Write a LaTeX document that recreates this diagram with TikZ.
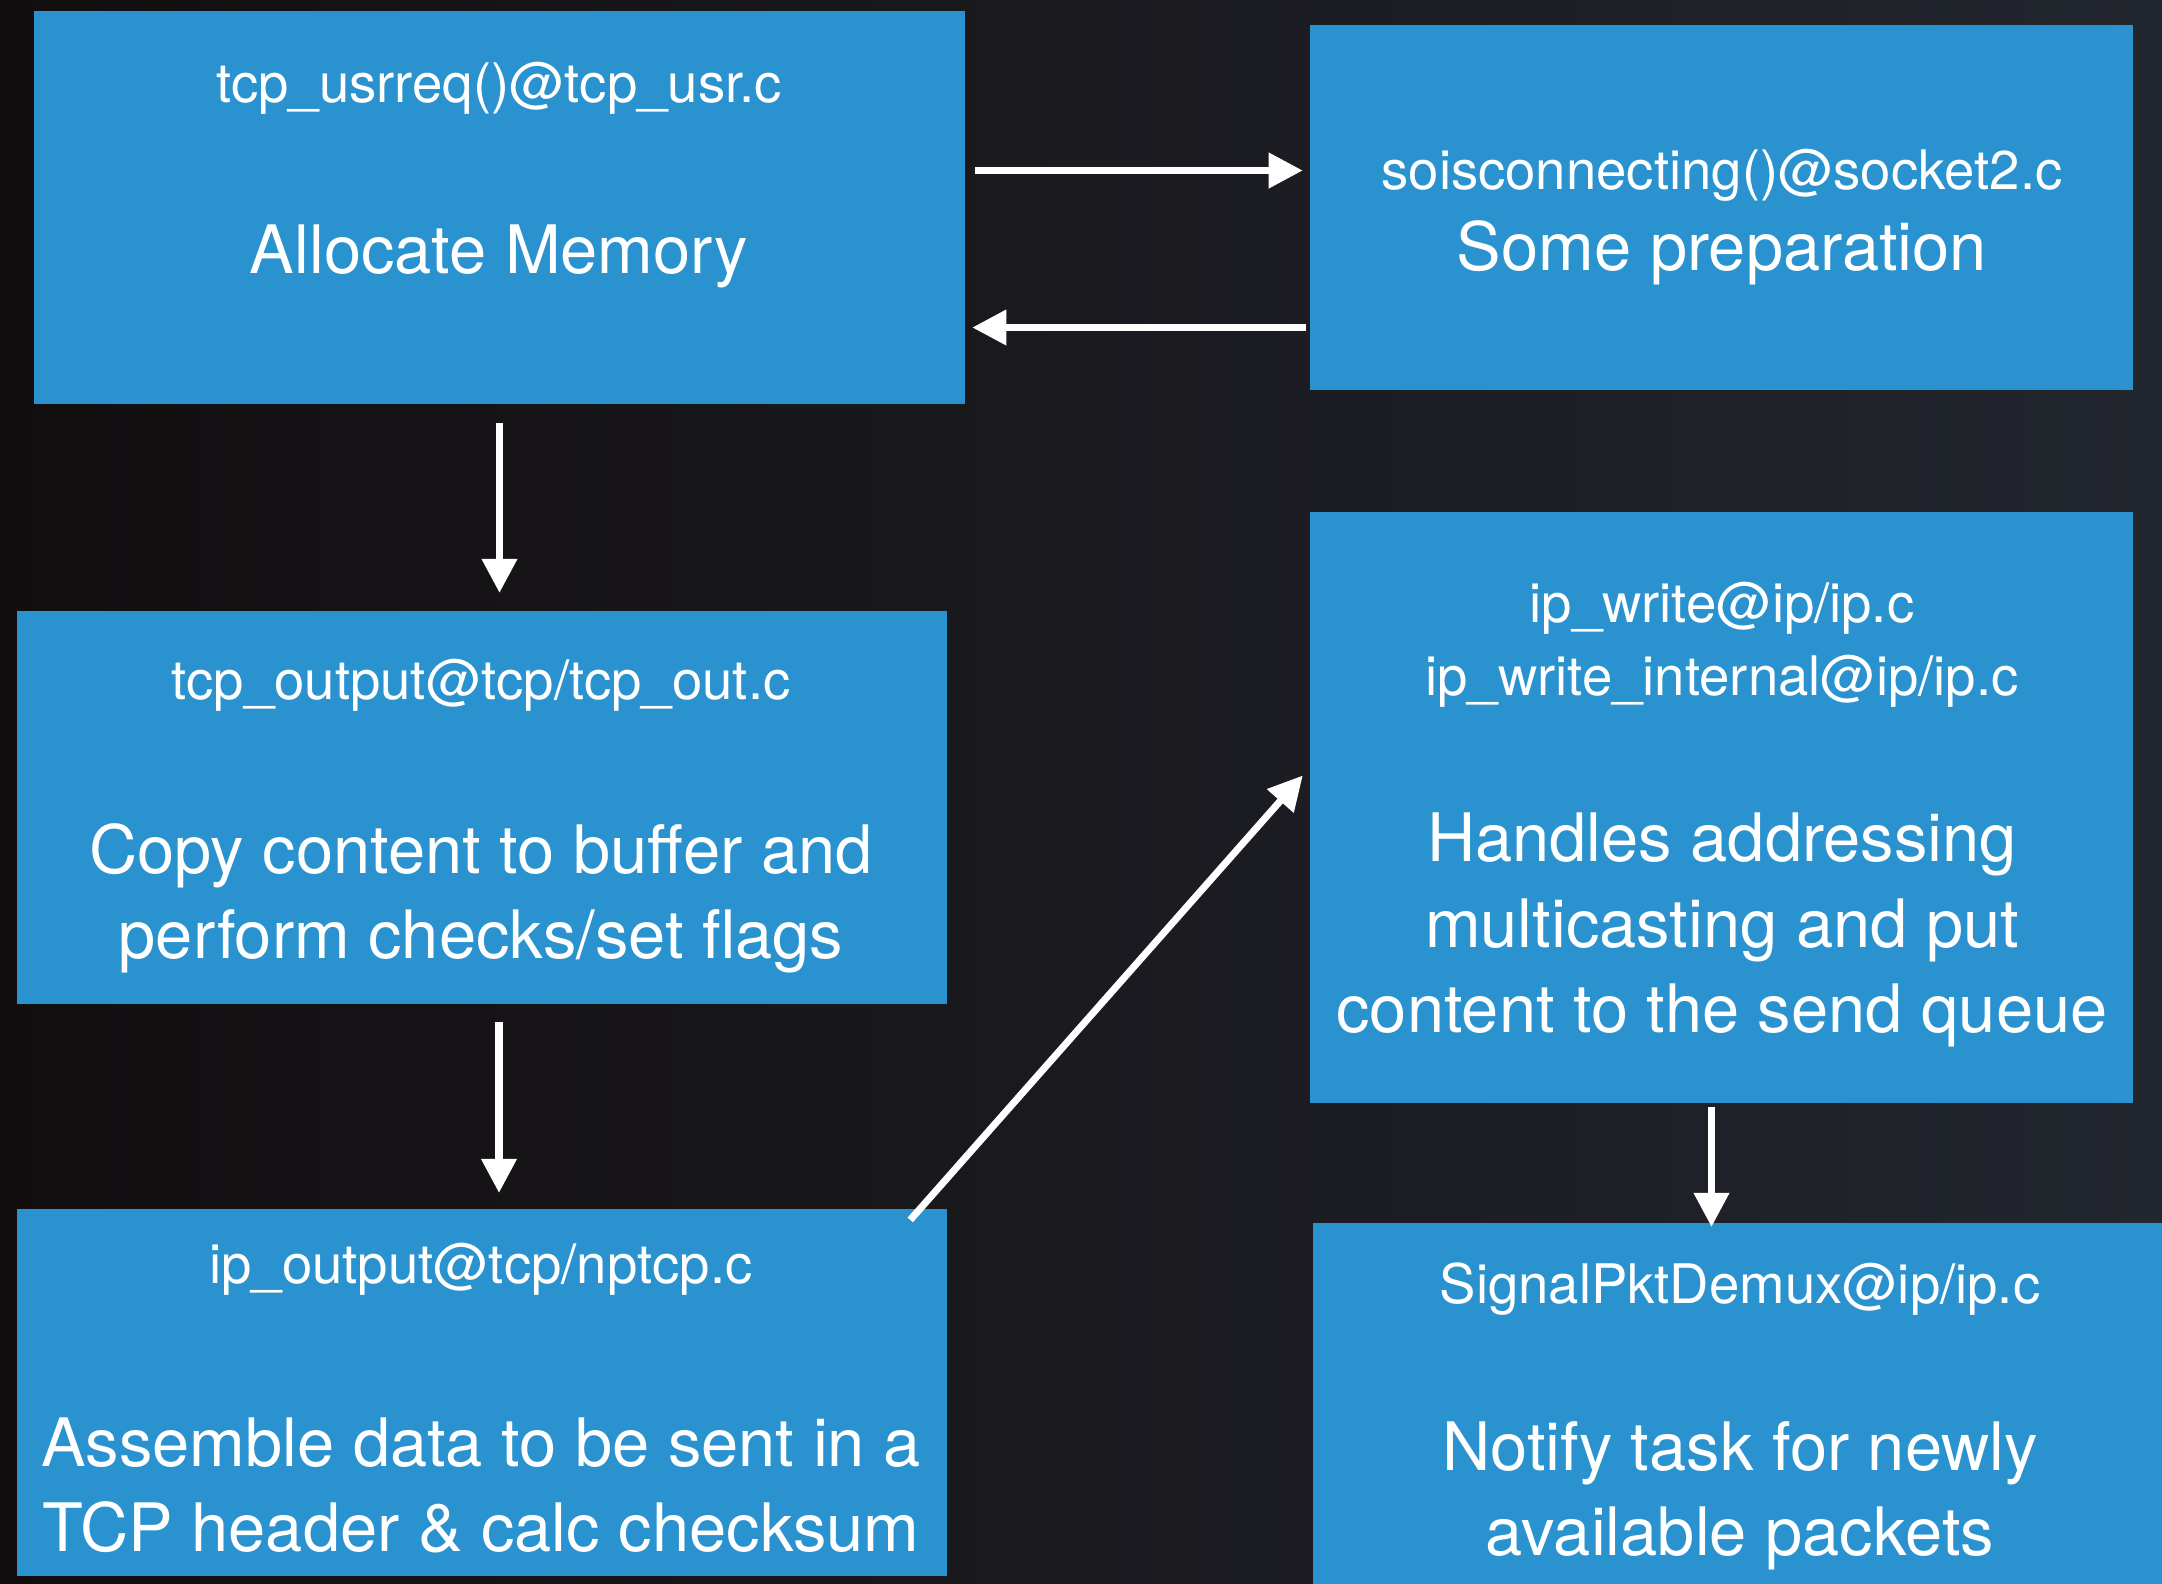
\documentclass[tikz,border=0pt]{standalone}
\usepackage{fontspec}
\setmainfont{TeX Gyre Heros}
\usetikzlibrary{arrows.meta,calc}
\definecolor{boxblue}{HTML}{2A93CF}
\definecolor{meshdark}{HTML}{120E10}
\definecolor{meshgray}{HTML}{22262E}

\begin{document}
\begin{tikzpicture}[x=0.01cm,y=-0.01cm,
  box/.style={fill=boxblue,inner sep=0pt,outer sep=0pt},
  fname/.style={text=white,font=\fontsize{15.5}{20.8}\selectfont,align=center},
  fdesc/.style={text=white,font=\fontsize{19}{24.2}\selectfont,align=center},
  flow/.style={draw=white,line width=2pt,-{Triangle[length=0.34cm,width=0.34cm]}}]
\useasboundingbox (0,0) rectangle (2162,1584);
\shade[left color=meshdark,right color=meshgray] (0,0) rectangle (2162,1584);
% boxes
\node[box,minimum width=9.31cm,minimum height=3.93cm] (usrreq) at (499.5,207.5) {};
\node[box,minimum width=8.23cm,minimum height=3.65cm] (soconn) at (1721.5,207.5) {};
\node[box,minimum width=9.30cm,minimum height=3.93cm] (tcpout) at (482,807.5) {};
\node[box,minimum width=8.23cm,minimum height=5.91cm] (ipwrite) at (1721.5,807.5) {};
\node[box,minimum width=9.30cm,minimum height=3.67cm] (ipout) at (482,1392.5) {};
\node[box,minimum width=8.49cm,minimum height=3.61cm] (demux) at (1737.5,1403.5) {};
% texts
\node[fname] (usrreq-fn) at (499,88) {tcp\_usrreq()@tcp\_usr.c};
\node[fdesc] (usrreq-do) at (499,256) {Allocate Memory};
\node[fname] (soconn-fn) at (1722,175) {soisconnecting()@socket2.c};
\node[fdesc] (soconn-do) at (1722,253) {Some preparation};
\node[fname] (tcpout-fn) at (481,685) {tcp\_output@tcp/tcp\_out.c};
\node[fdesc] (tcpout-do) at (481,898) {Copy content to buffer and\\perform checks/set flags};
\node[fname] (ipwrite-fn) at (1722,645) {ip\_write@ip/ip.c\\ip\_write\_internal@ip/ip.c};
\node[fdesc] (ipwrite-do) at (1722,930) {Handles addressing\\multicasting and put\\content to the send queue};
\node[fname] (ipout-fn) at (481,1269) {ip\_output@tcp/nptcp.c};
\node[fdesc] (ipout-do) at (481,1485) {Assemble data to be sent in a\\TCP header \& calc checksum};
\node[fname] (demux-fn) at (1740,1289) {SignalPktDemux@ip/ip.c};
\node[fdesc] (demux-do) at (1740,1496) {Notify task for newly\\available packets};
% arrows
\draw[flow] ($(usrreq.east)+(10,-37)$) -- ($(soconn.west)+(-7,-37)$);
\draw[flow] ($(soconn.west)+(-4,120)$) -- ($(usrreq.east)+(7,120)$);
\draw[flow] ($(usrreq.south)+(0,19)$) -- ($(usrreq.south |- tcpout.north)+(0,-18)$);
\draw[flow] ($(tcpout.south)+(17,18)$) -- ($(tcpout.south |- ipout.north)+(17,-16)$);
\draw[flow] ($(ipout.north east)+(-37,11)$) -- ($(ipwrite.west)+(-7,-32)$);
\draw[flow] ($(ipwrite.south)+(-10,4)$) -- ($(ipwrite.south |- demux.north)+(-10,4)$);
\end{tikzpicture}
\end{document}
